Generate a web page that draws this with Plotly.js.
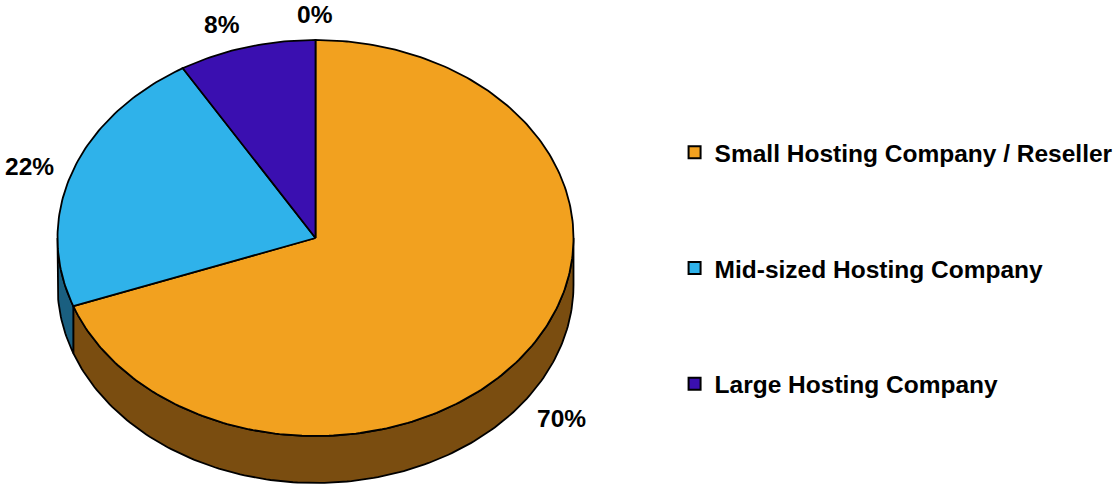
<!DOCTYPE html>
<html>
<head>
<meta charset="utf-8">
<script src="https://cdn.plot.ly/plotly-3.0.1.min.js"></script>
<style>html,body{margin:0;padding:0;background:#fff;overflow:hidden}#chart{width:1115px;height:485px}</style>
</head>
<body>
<div id="chart"></div>
<script>
// Data
const categories = ["Small Hosting Company / Reseller", "Mid-sized Hosting Company", "Large Hosting Company", "Other"];
const shares = [69.4, 22.0, 8.6, 0.0];
const labels = ["70%", "22%", "8%", "0%"];
const showInLegend = [true, true, true, false];
const topColors = ["#F2A11F", "#2FB2EA", "#3A0FB0", "#F2A11F"];
const wallColors = ["#7A4D10", "#1A5F80", "#1D0858", "#7A4D10"];

// Disc geometry, in axis units (1 unit = 1 px)
const rx = 258, ry = 198, depth = 47, edge = 1.8;
const STEP = 1;
const rad = d => d * Math.PI / 180;
const px = d => rx * Math.sin(rad(d));
const py = d => ry * Math.cos(rad(d));

function arc(from, to) {
  const a = [];
  for (let d = from; d < to; d += STEP) a.push(d);
  a.push(to);
  return a;
}

const total = shares.reduce((s, v) => s + v, 0);
let running = 0;
const spans = shares.map(v => {
  const from = running / total * 360;
  running += v;
  return [from, running / total * 360];
});

const traces = [];
const common = {type: "scatter", mode: "lines", fill: "toself", hoverinfo: "skip", showlegend: false,
                line: {color: "#000", width: edge}};

// Walls: only the front half of the rim (90 to 270 degrees) is visible
spans.forEach((s, i) => {
  const from = Math.max(s[0], 90), to = Math.min(s[1], 270);
  if (to <= from) return;
  const a = arc(from, to);
  const xs = a.map(px).concat(a.slice().reverse().map(px));
  const ys = a.map(d => py(d)).concat(a.slice().reverse().map(d => py(d) - depth));
  xs.push(xs[0]); ys.push(ys[0]);
  traces.push(Object.assign({}, common, {x: xs, y: ys, fillcolor: wallColors[i]}));
});

// Top face
spans.forEach((s, i) => {
  if (s[1] <= s[0]) return;
  const a = arc(s[0], s[1]);
  const xs = [0].concat(a.map(px), [0]);
  const ys = [0].concat(a.map(py), [0]);
  traces.push(Object.assign({}, common, {x: xs, y: ys, fillcolor: topColors[i]}));
});

// Native legend
categories.forEach((c, i) => {
  if (!showInLegend[i]) return;
  traces.push({type: "scatter", mode: "markers", x: [null], y: [null], name: c,
    legendgroup: c, showlegend: true, hoverinfo: "skip",
    marker: {symbol: "square", size: 14, color: topColors[i], line: {color: "#000", width: 1.5}}});
});

const cx = 315.5, cy = 238;
const W = 1115, H = 485;
const labelOffsets = [[246, -180], [-286, 72], [-94, 214], [-1, 224]];

const layout = {
  width: W, height: H,
  margin: {l: 0, r: 0, t: 0, b: 0, autoexpand: false},
  paper_bgcolor: "#fff", plot_bgcolor: "#fff",
  xaxis: {range: [-cx, W - cx], visible: false, fixedrange: true},
  yaxis: {range: [-(H - cy), cy], visible: false, fixedrange: true},
  showlegend: true,
  legend: {x: 0.605, xanchor: "left", y: 0.447, yanchor: "middle", xref: "paper", yref: "paper",
    bgcolor: "rgba(0,0,0,0)", borderwidth: 0, tracegroupgap: 81, itemsizing: "constant",
    font: {family: "Liberation Sans, Arial, sans-serif", size: 24.5, color: "#000", weight: 700}},
  annotations: labels.map((t, i) => ({
    x: labelOffsets[i][0], y: labelOffsets[i][1], xref: "x", yref: "y",
    text: "<b>" + t + "</b>", showarrow: false, xanchor: "center", yanchor: "middle",
    font: {family: "Liberation Sans, Arial, sans-serif", size: 24.5, color: "#000"}
  }))
};

Plotly.newPlot("chart", traces, layout, {staticPlot: true, displayModeBar: false});
</script>
</body>
</html>
